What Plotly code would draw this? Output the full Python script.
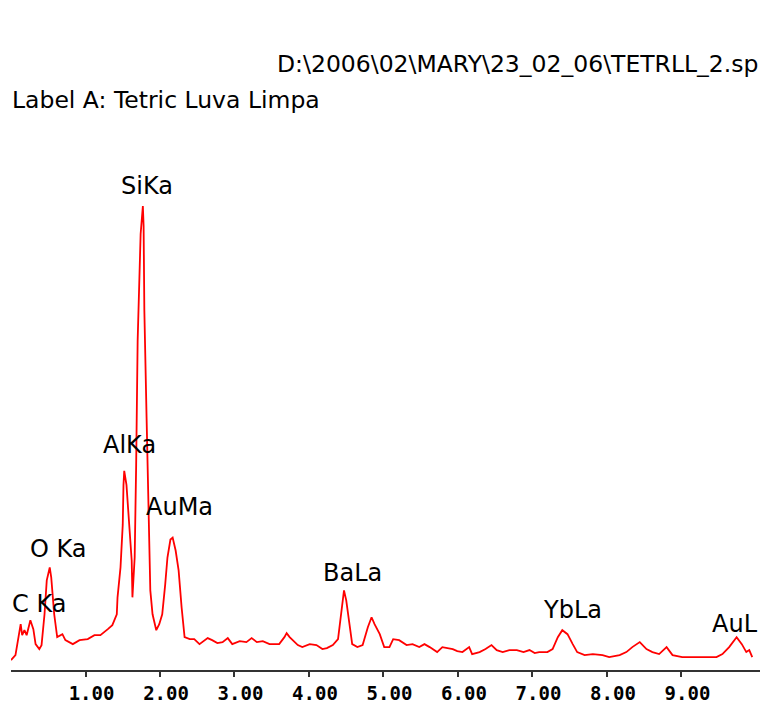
import plotly.graph_objects as go

energy_kev = [0.00, 0.06, 0.13, 0.15, 0.18, 0.21, 0.26, 0.30, 0.33, 0.38, 0.41, 0.45, 0.48, 0.52, 0.54,
              0.58, 0.62, 0.69, 0.73, 0.83, 0.92, 1.03, 1.12, 1.20, 1.30, 1.36, 1.42, 1.43, 1.47, 1.50,
              1.51, 1.52, 1.55, 1.59, 1.62, 1.63, 1.66, 1.68, 1.70, 1.74, 1.77, 1.78, 1.79, 1.82, 1.85,
              1.87, 1.90, 1.95, 1.99, 2.03, 2.07, 2.10, 2.14, 2.17, 2.21, 2.25, 2.29, 2.33, 2.40, 2.46,
              2.53, 2.57, 2.64, 2.70, 2.77, 2.84, 2.91, 2.97, 3.07, 3.16, 3.23, 3.30, 3.38, 3.47, 3.60,
              3.67, 3.70, 3.74, 3.78, 3.85, 3.91, 4.01, 4.10, 4.18, 4.24, 4.32, 4.39, 4.44, 4.47, 4.50,
              4.54, 4.58, 4.65, 4.72, 4.79, 4.84, 4.88, 4.95, 5.01, 5.08, 5.13, 5.21, 5.31, 5.39, 5.48,
              5.55, 5.62, 5.72, 5.79, 5.86, 5.93, 5.99, 6.06, 6.15, 6.19, 6.29, 6.37, 6.45, 6.52, 6.60,
              6.69, 6.79, 6.88, 6.96, 7.03, 7.09, 7.20, 7.27, 7.34, 7.40, 7.47, 7.54, 7.60, 7.70, 7.81,
              7.94, 8.03, 8.17, 8.26, 8.34, 8.44, 8.53, 8.61, 8.70, 8.80, 8.88, 9.01, 9.24, 9.47, 9.55,
              9.64, 9.74, 9.81, 9.87, 9.91, 9.95]

counts = [10, 15, 46, 35, 40, 35, 50, 41, 26, 21, 25, 56, 90, 103, 93,
          56, 33, 36, 30, 26, 30, 31, 35, 35, 41, 45, 56, 73, 103, 146,
          186, 200, 186, 143, 110, 73, 113, 206, 331, 438, 466, 446, 361, 253, 136,
          80, 56, 40, 46, 56, 86, 113, 131, 133, 120, 100, 63, 33, 31, 31,
          26, 28, 32, 30, 27, 28, 32, 26, 29, 28, 32, 28, 29, 26, 26,
          33, 37, 33, 30, 25, 23, 26, 25, 21, 22, 25, 31, 60, 80, 70,
          50, 26, 23, 25, 43, 53, 46, 36, 23, 23, 31, 30, 25, 26, 23,
          26, 23, 18, 23, 22, 21, 19, 18, 23, 16, 18, 21, 25, 20, 18,
          20, 20, 18, 20, 17, 18, 18, 21, 33, 40, 36, 26, 18, 15, 16,
          15, 13, 15, 18, 23, 28, 21, 18, 16, 23, 15, 13, 13, 13, 16,
          23, 33, 26, 18, 20, 13]

tick_values = [1, 2, 3, 4, 5, 6, 7, 8, 9]
tick_labels = ["1.00", "2.00", "3.00", "4.00", "5.00", "6.00", "7.00", "8.00", "9.00"]

peak_names = ["C Ka", "O Ka", "AlKa", "SiKa", "AuMa", "BaLa", "YbLa"]
peak_label_x = [0.37, 0.64, 1.59, 1.83, 2.26, 4.58, 7.54]
peak_label_y = [66, 122, 226, 486, 164, 97, 60]

path_text = "D:\\2006\\02\\MARY\\23_02_06\\TETRLL_2.sp"
label_text = "Label A: Tetric Luva Limpa"

fig = go.Figure()
fig.add_trace(go.Scatter(x=energy_kev, y=counts, mode="lines",
                         line=dict(color="#ff0000", width=1.8), hoverinfo="skip",
                         showlegend=False))

font_lbl = dict(family="DejaVu Sans", size=24, color="black")
font_hdr = dict(family="DejaVu Sans", size=23.5, color="black")
for name, lx, ly in zip(peak_names, peak_label_x, peak_label_y):
    fig.add_annotation(x=lx, y=ly, xref="x", yref="y", text=name, showarrow=False,
                       font=font_lbl, xanchor="center", yanchor="middle")
fig.add_annotation(x=1.0, y=46, xref="paper", yref="y", text="AuL", showarrow=False,
                   font=font_lbl, xanchor="right", yanchor="middle")

fig.add_annotation(x=1.0, y=(673 - 64) / 673, xref="paper", yref="paper",
                   text=path_text, showarrow=False, font=font_hdr,
                   xanchor="right", yanchor="middle")
fig.add_annotation(x=(10 - 11) / 749, y=(673 - 100) / 673, xref="paper", yref="paper",
                   text=label_text, showarrow=False, font=font_hdr,
                   xanchor="left", yanchor="middle")

fig.update_layout(
    width=760, height=704,
    margin=dict(l=11, r=0, t=0, b=31),
    paper_bgcolor="white", plot_bgcolor="white",
    xaxis=dict(range=[0, 10.054], showgrid=False, zeroline=False, showline=True,
               linecolor="#333333", linewidth=2, ticks="outside", ticklen=5, tickwidth=2,
               tickcolor="#333333", tickvals=tick_values, ticktext=tick_labels,
               ticklabelshift=6,
               tickfont=dict(family="DejaVu Sans Mono", size=19, color="black",
                             weight="bold")),
    yaxis=dict(range=[0, 673], visible=False),
)

fig.write_html("out.html")
